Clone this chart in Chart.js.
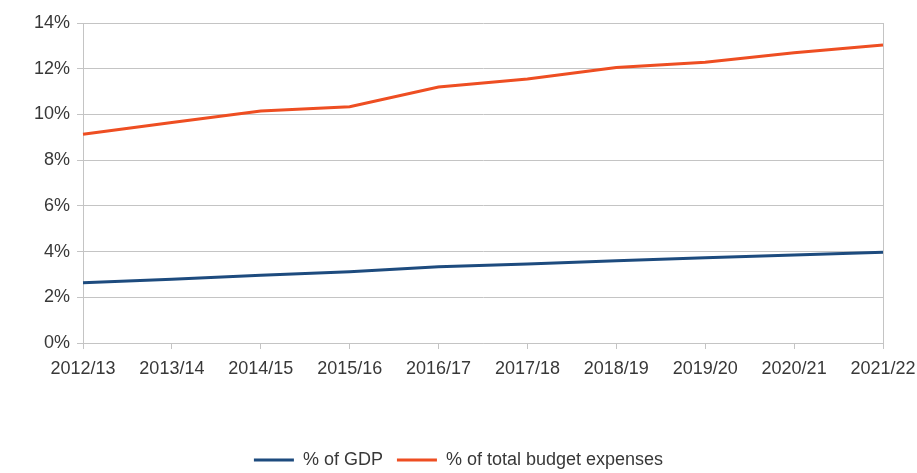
<!DOCTYPE html>
<html>
<head>
<meta charset="utf-8">
<script src="https://cdn.jsdelivr.net/npm/chart.js@4/dist/chart.umd.min.js"></script>
<style>
  html, body { margin: 0; padding: 0; background: #ffffff; }
  #wrap { width: 917px; height: 473px; position: relative; }
</style>
</head>
<body>
<div id="wrap"><canvas id="chart" width="917" height="473"></canvas></div>
<script>
// Fiscal years on the category axis
const years = ['2012/13', '2013/14', '2014/15', '2015/16', '2016/17',
               '2017/18', '2018/19', '2019/20', '2020/21', '2021/22'];

// Spending as a share of GDP (%)
const shareOfGdp = [2.64, 2.79, 2.96, 3.12, 3.34, 3.46, 3.60, 3.73, 3.85, 3.97];

// Spending as a share of total budget expenses (%)
const shareOfBudget = [9.13, 9.65, 10.15, 10.34, 11.20, 11.55, 12.05, 12.28, 12.70, 13.04];

// Y axis range and step (%)
const yMin = 0;
const yMax = 14;
const yStep = 2;

const seriesNames = ['% of GDP', '% of total budget expenses'];

const gridGrey = '#c4c4c4';
const textGrey = '#383838';
const fontSpec = { family: '"Liberation Sans", Arial, sans-serif', size: 18 };

new Chart(document.getElementById('chart'), {
  type: 'line',
  data: {
    labels: years,
    datasets: [
      {
        label: seriesNames[0],
        data: shareOfGdp,
        borderColor: '#1d4b7e',
        backgroundColor: '#1d4b7e',
        borderWidth: 3,
        pointRadius: 0,
        tension: 0
      },
      {
        label: seriesNames[1],
        data: shareOfBudget,
        borderColor: '#ee4e22',
        backgroundColor: '#ee4e22',
        borderWidth: 3,
        pointRadius: 0,
        tension: 0
      }
    ]
  },
  options: {
    responsive: false,
    animation: false,
    layout: { padding: { top: 23, right: 34, bottom: -6, left: 34 } },
    plugins: {
      tooltip: { enabled: false },
      legend: {
        position: 'bottom',
        labels: {
          color: textGrey,
          font: fontSpec,
          boxWidth: 40,
          boxHeight: 3,
          padding: 14,
          // plain filled strip as the line sample, no outline
          generateLabels: chart =>
            Chart.defaults.plugins.legend.labels.generateLabels(chart)
              .map(item => Object.assign(item, { lineWidth: 0 }))
        }
      }
    },
    scales: {
      x: {
        offset: false,
        grid: {
          color: ctx => (ctx.index === years.length - 1 ? gridGrey : 'rgba(0,0,0,0)'),
          tickColor: gridGrey,
          tickLength: 6,
          lineWidth: 1
        },
        border: { display: true, color: gridGrey },
        ticks: {
          color: textGrey,
          font: fontSpec,
          maxRotation: 0,
          autoSkip: false,
          padding: 9
        },
        afterFit: s => { s.height = 94; s.paddingLeft = 0; s.paddingRight = 0; }
      },
      y: {
        min: yMin,
        max: yMax,
        grid: { color: gridGrey, tickColor: gridGrey, tickLength: 6, lineWidth: 1 },
        border: { display: true, color: gridGrey },
        ticks: {
          stepSize: yStep,
          color: textGrey,
          font: fontSpec,
          padding: 7,
          callback: v => v + '%'
        },
        afterFit: s => { s.width = 49; }
      }
    }
  }
});
</script>
</body>
</html>
